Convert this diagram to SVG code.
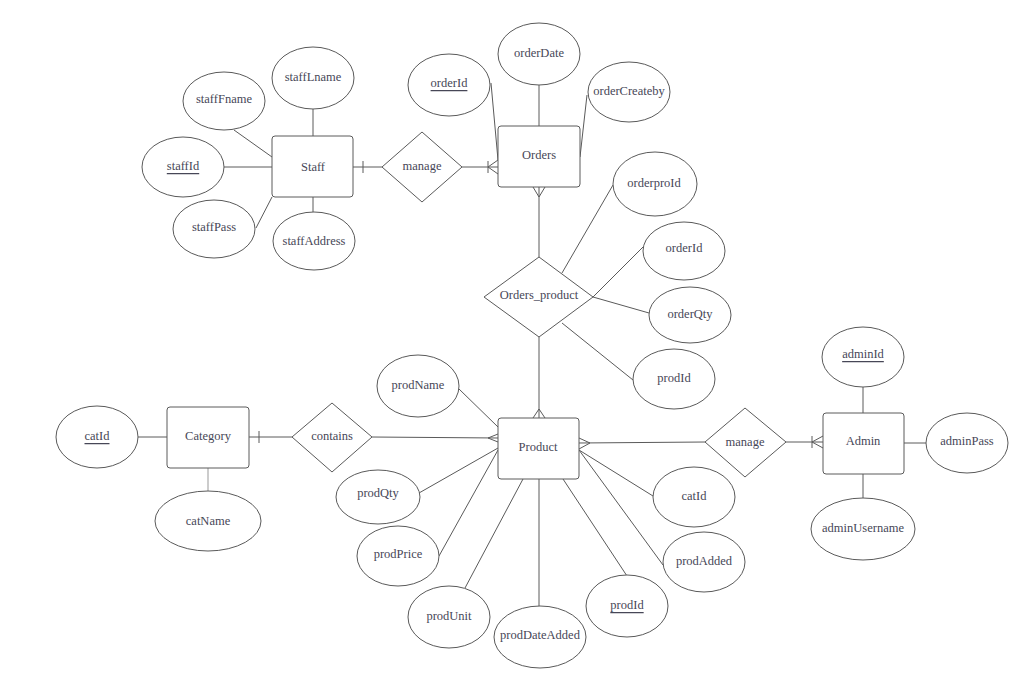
<svg xmlns="http://www.w3.org/2000/svg" width="1027" height="687" viewBox="0 0 1027 687">
<style>
.s{fill:#fff;stroke:#5a5a5a;stroke-width:1}
.c{fill:none;stroke:#5a5a5a;stroke-width:1}
text{font-family:"Liberation Serif","Times New Roman",serif;font-size:12.5px;fill:#474757;text-anchor:middle;dominant-baseline:central}
.u{text-decoration:underline}
</style>
<rect width="1027" height="687" fill="#fff"/>
<g id="connectors">
<line class="c" x1="234" y1="130" x2="272" y2="157"/>
<line class="c" x1="224" y1="167" x2="272" y2="167"/>
<line class="c" x1="256" y1="228" x2="272" y2="197"/>
<line class="c" x1="313" y1="109" x2="313" y2="136"/>
<line class="c" x1="313" y1="197" x2="313" y2="212"/>
<line class="c" x1="353" y1="167" x2="382" y2="167"/>
<line class="c" x1="363" y1="161" x2="363" y2="173"/>
<line class="c" x1="462" y1="167" x2="498" y2="167"/>
<line class="c" x1="488" y1="161" x2="488" y2="173"/>
<path class="c" d="M498,160 L488,167 L498,174"/>
<line class="c" x1="491" y1="83" x2="498" y2="160"/>
<line class="c" x1="539" y1="85" x2="539" y2="126"/>
<line class="c" x1="587" y1="95" x2="580" y2="157"/>
<line class="c" x1="539" y1="187" x2="539" y2="257"/>
<path class="c" d="M533,187 L539,197 L545,187"/>
<line class="c" x1="562" y1="273" x2="613" y2="185"/>
<line class="c" x1="593" y1="297" x2="643" y2="247"/>
<line class="c" x1="593" y1="297" x2="649" y2="313"/>
<line class="c" x1="562" y1="323" x2="633" y2="380"/>
<line class="c" x1="539" y1="337" x2="539" y2="418"/>
<path class="c" d="M533,418 L539,409 L545,418"/>
<line class="c" x1="138" y1="437" x2="167" y2="437"/>
<line x1="208" y1="468" x2="208" y2="492" stroke="#999" stroke-width="1"/>
<line class="c" x1="249" y1="437" x2="292" y2="437"/>
<line class="c" x1="259" y1="431" x2="259" y2="443"/>
<line class="c" x1="372" y1="437" x2="498" y2="438"/>
<path class="c" d="M498,434 L488,438 L498,442"/>
<line class="c" x1="459" y1="389" x2="498" y2="427"/>
<line class="c" x1="419" y1="493" x2="498" y2="448"/>
<line class="c" x1="439" y1="556" x2="498" y2="450"/>
<line class="c" x1="465" y1="588" x2="523" y2="479"/>
<line class="c" x1="539" y1="607" x2="539" y2="479"/>
<line class="c" x1="627" y1="576" x2="563" y2="479"/>
<line class="c" x1="663" y1="565" x2="579" y2="450"/>
<line class="c" x1="653" y1="496" x2="579" y2="450"/>
<line class="c" x1="579" y1="443" x2="705" y2="442"/>
<path class="c" d="M579,438 L590,443 L579,449"/>
<line class="c" x1="786" y1="442" x2="823" y2="442"/>
<line class="c" x1="812" y1="436" x2="812" y2="448"/>
<path class="c" d="M823,436 L812,442 L823,448"/>
<line class="c" x1="863" y1="387" x2="863" y2="413"/>
<line class="c" x1="904" y1="443" x2="926" y2="443"/>
<line class="c" x1="863" y1="474" x2="863" y2="499"/>
</g>
<g id="staff"><rect class="s" x="272" y="136" width="81" height="61" rx="3"/><text x="313" y="167">Staff</text></g>
<g id="staffLname"><ellipse class="s" cx="313" cy="78" rx="41" ry="31"/><text x="313" y="77">staffLname</text></g>
<g id="staffFname"><ellipse class="s" cx="224" cy="101" rx="41" ry="29"/><text x="224" y="99">staffFname</text></g>
<g id="staffId"><ellipse class="s" cx="183" cy="167" rx="41" ry="30"/><text class="u" x="183" y="166">staffId</text></g>
<g id="staffPass"><ellipse class="s" cx="214" cy="229" rx="41" ry="29"/><text x="214" y="227">staffPass</text></g>
<g id="staffAddress"><ellipse class="s" cx="314" cy="241" rx="41" ry="29"/><text x="314" y="241">staffAddress</text></g>
<g id="manage1"><polygon class="s" points="422,132 462,167 422,202 382,167"/><text x="422" y="166">manage</text></g>
<g id="orders"><rect class="s" x="498" y="126" width="82" height="61" rx="3"/><text x="539" y="155">Orders</text></g>
<g id="orderId"><ellipse class="s" cx="449" cy="85" rx="41" ry="31"/><text class="u" x="449" y="83">orderId</text></g>
<g id="orderDate"><ellipse class="s" cx="539" cy="54" rx="41" ry="31"/><text x="539" y="53">orderDate</text></g>
<g id="orderCreateby"><ellipse class="s" cx="629" cy="92" rx="41" ry="30"/><text x="629" y="91">orderCreateby</text></g>
<g id="ordersProduct"><polygon class="s" points="539,257 593,297 539,337 484,297"/><text x="539" y="295">Orders_product</text></g>
<g id="orderproId"><ellipse class="s" cx="655" cy="184" rx="42" ry="32"/><text x="654" y="183">orderproId</text></g>
<g id="orderId2"><ellipse class="s" cx="684" cy="251" rx="41" ry="29"/><text x="684" y="248">orderId</text></g>
<g id="orderQty"><ellipse class="s" cx="690" cy="315" rx="41" ry="28"/><text x="690" y="314">orderQty</text></g>
<g id="prodId2"><ellipse class="s" cx="674" cy="379" rx="41" ry="30"/><text x="674" y="378">prodId</text></g>
<g id="product"><rect class="s" x="498" y="418" width="81" height="61" rx="3"/><text x="538" y="447">Product</text></g>
<g id="prodName"><ellipse class="s" cx="418" cy="386" rx="41" ry="31"/><text x="418" y="385">prodName</text></g>
<g id="prodQty"><ellipse class="s" cx="378" cy="497" rx="42" ry="27"/><text x="378" y="493">prodQty</text></g>
<g id="prodPrice"><ellipse class="s" cx="398" cy="556" rx="41" ry="30"/><text x="398" y="554">prodPrice</text></g>
<g id="prodUnit"><ellipse class="s" cx="449" cy="617" rx="41" ry="31"/><text x="449" y="616">prodUnit</text></g>
<g id="prodDateAdded"><ellipse class="s" cx="540" cy="637" rx="46" ry="31"/><text x="540" y="635">prodDateAdded</text></g>
<g id="prodId"><ellipse class="s" cx="627" cy="606" rx="41" ry="31"/><text class="u" x="627" y="605">prodId</text></g>
<g id="prodAdded"><ellipse class="s" cx="704" cy="562" rx="41" ry="30"/><text x="704" y="561">prodAdded</text></g>
<g id="catIdP"><ellipse class="s" cx="694" cy="497" rx="41" ry="30"/><text x="694" y="496">catId</text></g>
<g id="category"><rect class="s" x="167" y="407" width="82" height="61" rx="3"/><text x="208" y="436">Category</text></g>
<g id="catId"><ellipse class="s" cx="97" cy="437" rx="41" ry="31"/><text class="u" x="97" y="436">catId</text></g>
<g id="catName"><ellipse class="s" cx="208" cy="521" rx="53" ry="30"/><text x="208" y="521">catName</text></g>
<g id="contains"><polygon class="s" points="332,403 372,437 332,472 292,437"/><text x="332" y="436">contains</text></g>
<g id="manage2"><polygon class="s" points="745,408 786,442 745,477 705,442"/><text x="745" y="442">manage</text></g>
<g id="admin"><rect class="s" x="823" y="413" width="81" height="61" rx="3"/><text x="863" y="441">Admin</text></g>
<g id="adminId"><ellipse class="s" cx="863" cy="357" rx="41" ry="30"/><text class="u" x="863" y="354">adminId</text></g>
<g id="adminPass"><ellipse class="s" cx="967" cy="443" rx="41" ry="30"/><text x="967" y="441">adminPass</text></g>
<g id="adminUsername"><ellipse class="s" cx="863" cy="529" rx="52" ry="31"/><text x="863" y="528">adminUsername</text></g>
</svg>
